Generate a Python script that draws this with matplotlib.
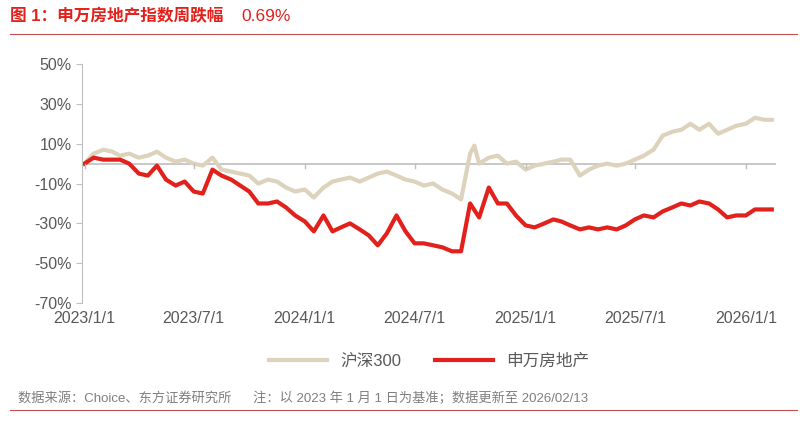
import matplotlib.pyplot as plt
import pandas as pd

plt.rcParams['font.family'] = ['Liberation Sans', 'Noto Sans CJK SC', 'DejaVu Sans']

# semi-monthly readings (1st and 16th of each month), %
csi300 = [0, 5, 7, 6, 4, 5, 3, 4, 6, 3, 1, 2, 0, -1, 3, -3, -4, -5, -6, -10, -8, -9, -12, -14,
          -13, -17, -12, -9, -8, -7, -9, -7, -5, -4, -6, -8, -9, -11, -10, -13, -15, -18, 5, 0, 3, 4, 0, 1,
          -3, -1, 0, 1, 2, 2, -6, -3, -1, 0, -1, 0, 2, 4, 7, 14, 16, 17, 20, 17, 20, 15, 17, 19,
          20, 23, 22, 22]
sw_property = [0, 3, 2, 2, 2, 0, -5, -6, -1, -8, -11, -9, -14, -15, -3, -6, -8, -11, -14, -20, -20, -19, -22, -26,
               -29, -34, -26, -34, -32, -30, -33, -36, -41, -35, -26, -34, -40, -40, -41, -42, -44, -44, -20, -27, -12, -20, -20, -26,
               -31, -32, -30, -28, -29, -31, -33, -32, -33, -32, -33, -31, -28, -26, -27, -24, -22, -20, -21, -19, -20, -23, -27, -26,
               -26, -23, -23, -23]
dates = []
for y in (2023, 2024, 2025, 2026):
    for m in range(1, 13):
        for d in (1, 16):
            dates.append(pd.Timestamp(y, m, d))
dates = dates[:len(csi300)]
dates[-1] = pd.Timestamp(2026, 2, 13)
# spike in Oct 2024
csi_s = pd.Series(csi300, index=dates)
csi_s[pd.Timestamp(2024, 10, 8)] = 9
csi_s = csi_s.sort_index()

fig = plt.figure(figsize=(8.05, 4.21), dpi=100)
ax = fig.add_axes([0.102, 0.28, 0.862, 0.568])
ax.plot(csi_s.index, csi_s.values, color='#DDD3BC', lw=3, label='沪深300')
ax.plot(dates, sw_property, color='#E3211C', lw=3, label='申万房地产')
ax.axhline(0, color='#BFBFBF', lw=1.2, zorder=0)

ticks = [pd.Timestamp(s) for s in ['2023-01-01', '2023-07-01', '2024-01-01', '2024-07-01',
                                   '2025-01-01', '2025-07-01', '2026-01-01']]
ax.set_xticks(ticks)
ax.set_xticklabels(['2023/1/1', '2023/7/1', '2024/1/1', '2024/7/1', '2025/1/1', '2025/7/1', '2026/1/1'])
ax.set_xlim(pd.Timestamp('2022-12-28'), pd.Timestamp('2026-02-20'))
ax.set_ylim(-70, 50)
ax.set_yticks(range(-70, 51, 20))
ax.set_yticklabels([f'{v}%' for v in range(-70, 51, 20)])
for s in ['top', 'right', 'bottom']:
    ax.spines[s].set_visible(False)
ax.spines['left'].set_color('#BFBFBF')
ax.tick_params(axis='y', colors='#595959', labelsize=11.5, length=4, color='#BFBFBF')
ax.tick_params(axis='x', colors='#595959', labelsize=11.5, length=0, pad=6)
for t in ticks:
    ax.plot([t, t], [0, -2], color='#BFBFBF', lw=1)

ax.legend(loc='upper center', bbox_to_anchor=(0.5, -0.15), ncol=2, frameon=False,
          fontsize=12, labelcolor='#595959', handlelength=3.5)

fig.text(0.012, 0.95, '图 1：申万房地产指数周跌幅', color='#E3211C', fontsize=12, fontweight='bold')
fig.text(0.3, 0.95, '0.69%', color='#E3211C', fontsize=12.5)
fig.add_artist(plt.Line2D([0.012, 0.99], [0.92, 0.92], color='#C0504D', lw=0.8))
fig.add_artist(plt.Line2D([0.012, 0.99], [0.026, 0.026], color='#C0504D', lw=0.8))
fig.text(0.022, 0.045, '数据来源：Choice、东方证券研究所      注：以 2023 年 1 月 1 日为基准；数据更新至 2026/02/13',
         color='#7F7F7F', fontsize=9.5)

fig.savefig('out.png')
